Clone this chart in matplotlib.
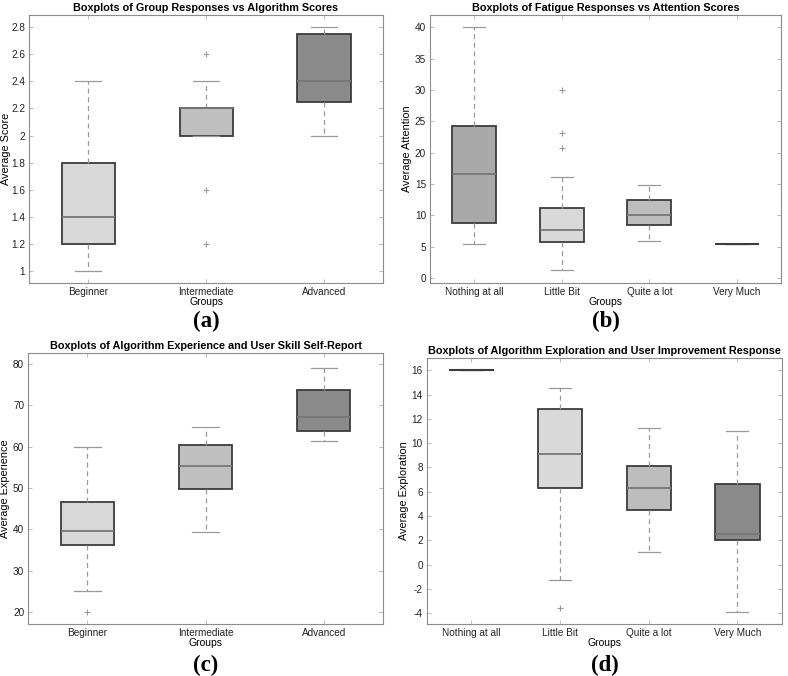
import numpy as np
import matplotlib.pyplot as plt
from matplotlib.ticker import FormatStrFormatter

plt.rcParams['font.family'] = ['Liberation Sans', 'DejaVu Sans']

# ---- panel (a): group responses vs algorithm scores
a_groups = ['Beginner', 'Intermediate', 'Advanced']
a_lo = [1.0, 2.0, 2.0]
a_q1 = [1.2, 2.0, 2.25]
a_med = [1.4, 2.2, 2.4]
a_q3 = [1.8, 2.2, 2.75]
a_hi = [2.4, 2.4, 2.8]
a_fliers = [[], [2.6, 1.6, 1.2], []]
a_fill = ['#d9d9d9', '#bfbfbf', '#8a8a8a']

# ---- panel (b): fatigue responses vs attention scores
b_groups = ['Nothing at all', 'Little Bit', 'Quite a lot', 'Very Much']
b_lo = [5.4, 1.2, 5.9, 5.4]
b_q1 = [8.7, 5.7, 8.5, 5.4]
b_med = [16.6, 7.6, 10.0, 5.4]
b_q3 = [24.2, 11.1, 12.4, 5.4]
b_hi = [40.1, 16.1, 14.8, 5.4]
b_fliers = [[], [20.8, 23.2, 30.0], [], []]
b_fill = ['#a9a9a9', '#d9d9d9', '#bdbdbd', '#8a8a8a']

# ---- panel (c): algorithm experience vs skill self-report
c_groups = ['Beginner', 'Intermediate', 'Advanced']
c_lo = [25.1, 39.3, 61.4]
c_q1 = [36.3, 49.7, 63.7]
c_med = [39.5, 55.4, 67.3]
c_q3 = [46.7, 60.4, 73.8]
c_hi = [60.0, 64.7, 79.0]
c_fliers = [[20.0], [], []]
c_fill = ['#d9d9d9', '#bfbfbf', '#8a8a8a']

# ---- panel (d): algorithm exploration vs improvement response
d_groups = ['Nothing at all', 'Little Bit', 'Quite a lot', 'Very Much']
d_lo = [16.0, -1.3, 1.0, -3.95]
d_q1 = [16.0, 6.3, 4.5, 2.0]
d_med = [16.0, 9.15, 6.3, 2.55]
d_q3 = [16.0, 12.85, 8.15, 6.6]
d_hi = [16.0, 14.55, 11.25, 11.0]
d_fliers = [[], [-3.6], [], []]
d_fill = ['#8a8a8a', '#d9d9d9', '#bdbdbd', '#8a8a8a']

EDGE = '#3c3c3c'
WHISK = '#9a9a9a'
MED = '#777777'


def draw_panel(ax, groups, lo, q1, med, q3, hi, fliers, fills, width,
               title, ylabel, yticks, ylim, fmt):
    stats = []
    for i in range(len(groups)):
        stats.append(dict(whislo=lo[i], q1=q1[i], med=med[i], q3=q3[i],
                          whishi=hi[i], fliers=fliers[i], label=groups[i]))
    bp = ax.bxp(stats, widths=width, patch_artist=True, showfliers=True,
                boxprops=dict(edgecolor=EDGE, linewidth=1.3),
                medianprops=dict(color=MED, linewidth=1.3),
                whiskerprops=dict(color=WHISK, linestyle=(0, (4, 3)), linewidth=0.9),
                capprops=dict(color=WHISK, linewidth=0.9),
                flierprops=dict(marker='+', markeredgecolor=WHISK,
                                markersize=4, markeredgewidth=0.8))
    for patch, col in zip(bp['boxes'], fills):
        patch.set_facecolor(col)
    # groups with a single value collapse to one dark line
    for i, m in enumerate(bp['medians']):
        if q1[i] == q3[i]:
            m.set_color(EDGE)
            m.set_linewidth(1.5)
    ax.set_xlim(0.5, len(groups) + 0.5)
    ax.set_ylim(*ylim)
    ax.set_yticks(yticks)
    ax.yaxis.set_major_formatter(FormatStrFormatter(fmt))
    ax.set_title(title, fontsize=7.8, fontweight='bold', pad=3)
    ax.set_ylabel(ylabel, fontsize=7.8)
    ax.yaxis.set_label_coords(-0.052, 0.5)
    ax.set_xlabel('Groups', fontsize=7.5, labelpad=0)
    ax.tick_params(direction='in', length=3, width=0.6, color='#b0b0b0',
                   labelsize=7.2, labelcolor='#222222', top=True, right=True, pad=3)
    for s in ax.spines.values():
        s.set_color('#8c8c8c')
        s.set_linewidth(0.8)


fig = plt.figure(figsize=(7.88, 6.76), dpi=100)
ax_a = fig.add_axes([0.037, 0.581, 0.449, 0.397])
ax_b = fig.add_axes([0.546, 0.581, 0.445, 0.397])
ax_c = fig.add_axes([0.036, 0.077, 0.450, 0.401])
ax_d = fig.add_axes([0.542, 0.077, 0.450, 0.393])

draw_panel(ax_a, a_groups, a_lo, a_q1, a_med, a_q3, a_hi, a_fliers, a_fill, 0.45,
           'Boxplots of Group Responses vs Algorithm Scores', 'Average Score',
           np.arange(1.0, 2.81, 0.2), (0.91, 2.89), '%g')
draw_panel(ax_b, b_groups, b_lo, b_q1, b_med, b_q3, b_hi, b_fliers, b_fill, 0.5,
           'Boxplots of Fatigue Responses vs Attention Scores', 'Average Attention',
           np.arange(0, 41, 5), (-0.85, 42.0), '%g')
draw_panel(ax_c, c_groups, c_lo, c_q1, c_med, c_q3, c_hi, c_fliers, c_fill, 0.45,
           'Boxplots of Algorithm Experience and User Skill Self-Report', 'Average Experience',
           np.arange(20, 81, 10), (17.1, 82.7), '%g')
draw_panel(ax_d, d_groups, d_lo, d_q1, d_med, d_q3, d_hi, d_fliers, d_fill, 0.5,
           'Boxplots of Algorithm Exploration and User Improvement Response', 'Average Exploration',
           np.arange(-4, 17, 2), (-4.9, 17.0), '%g')

for ax, lab, y in [(ax_a, '(a)', 0.524), (ax_b, '(b)', 0.524),
                   (ax_c, '(c)', 0.015), (ax_d, '(d)', 0.015)]:
    pos = ax.get_position()
    fig.text((pos.x0 + pos.x1) / 2, y, lab, ha='center', va='center',
             fontsize=16.5, fontweight='bold', family='Liberation Serif')

fig.savefig('out.png', dpi=100)
